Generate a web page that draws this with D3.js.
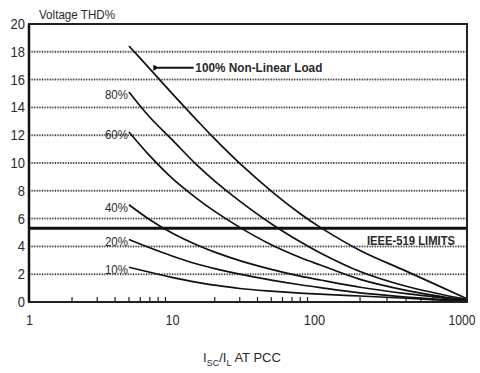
<!DOCTYPE html>
<html>
<head>
<meta charset="utf-8">
<script src="https://cdn.jsdelivr.net/npm/d3@7"></script>
<style>
  html, body { margin: 0; padding: 0; background: #fff; }
  svg { display: block; }
  text { font-family: "Liberation Sans", Arial, sans-serif; fill: #2a2a2a; }
</style>
</head>
<body>
<svg id="chart" width="480" height="373"></svg>
<script>
// Short-circuit ratio (Isc/IL) sample points shared by every curve
const ratio = [5, 7, 10, 15, 20, 30, 50, 80, 110, 200, 400, 1000];

// Voltage THD % for each share of non-linear load
const load100 = [18.42, 16.77, 15.01, 13.07, 11.73, 9.97, 7.98, 6.35, 5.37, 3.71, 2.22, 0.24];
const load80  = [15.11, 13.29, 11.68, 9.84, 8.70, 7.26, 5.63, 4.33, 3.53, 2.19, 1.13, 0.17];
const load60  = [12.23, 10.51, 8.91, 7.44, 6.52, 5.37, 4.12, 3.20, 2.66, 1.63, 0.84, 0.09];
const load40  = [7.0, 5.92, 4.96, 4.10, 3.59, 2.98, 2.35, 1.86, 1.58, 1.06, 0.60, 0.12];
const load20  = [4.5, 3.90, 3.31, 2.73, 2.40, 2.0, 1.58, 1.24, 1.03, 0.65, 0.36, 0.05];
const load10  = [2.5, 2.14, 1.77, 1.41, 1.21, 0.97, 0.78, 0.64, 0.56, 0.43, 0.27, 0.05];

const seriesNames = ["100%", "80%", "60%", "40%", "20%", "10%"];
const seriesValues = [load100, load80, load60, load40, load20, load10];

// Axis ticks
const xTickValues = [1, 10, 100, 1000];
const xTickLabels = ["1", "10", "100", "1000"];
const xMinorTicks = [2,3,4,5,6,7,8,9,20,30,40,50,60,70,80,90,200,300,400,500,600,700,800,900];
const yTickValues = [0, 2, 4, 6, 8, 10, 12, 14, 16, 18, 20];
const yGridValues = [2, 4, 6, 8, 10, 12, 14, 16, 18];

// IEEE-519 limit level
const ieeeLimit = [5.3];

const svg = d3.select("#chart");

// Hand-drawn decades are not quite equal in width
const x = d3.scaleLog().domain([1, 10, 100, 1000]).range([29, 172, 314, 467]);
const y = d3.scaleLinear().domain([0, 20]).range([302, 24]);

const plotLeft = 29, plotRight = 467, plotTop = 24, plotBottom = 302;

// dotted gridlines
const grid = svg.append("g");
grid.selectAll("line.base").data(yGridValues).join("line")
  .attr("class", "base")
  .attr("x1", plotLeft).attr("x2", plotRight)
  .attr("y1", d => y(d)).attr("y2", d => y(d))
  .attr("stroke", "#c4c4c4").attr("stroke-width", 1);
grid.selectAll("line.dot").data(yGridValues).join("line")
  .attr("class", "dot")
  .attr("x1", plotLeft).attr("x2", plotRight)
  .attr("y1", d => y(d)).attr("y2", d => y(d))
  .attr("stroke", "#3a3a3a").attr("stroke-width", 2)
  .attr("stroke-dasharray", "1,1.6");

// y axis labels
const yAxis = d3.axisLeft(y).tickValues(yTickValues).tickSize(0).tickPadding(4);
const gy = svg.append("g").attr("transform", `translate(${plotLeft},0)`).call(yAxis);
gy.select(".domain").remove();
gy.attr("font-family", null);
gy.selectAll("text").style("font-size", "14px").attr("fill", "#2a2a2a")
  .attr("textLength", d => String(d).length * 7.2).attr("lengthAdjust", "spacingAndGlyphs");

// x axis labels
const xAxis = d3.axisBottom(x).tickValues(xTickValues)
  .tickFormat((d, i) => xTickLabels[i]).tickSize(0).tickPadding(12);
const gx = svg.append("g").attr("transform", `translate(0,${plotBottom})`).call(xAxis);
gx.select(".domain").remove();
gx.attr("font-family", null);
gx.selectAll("text").style("font-size", "15px").attr("fill", "#2a2a2a")
  .attr("textLength", (d, i) => xTickLabels[i].length * 7.1)
  .attr("lengthAdjust", "spacingAndGlyphs");
// last label sits against the right edge of the page
gx.selectAll("text").filter(d => d === 1000)
  .attr("text-anchor", "end").attr("x", 475 - x(1000))
  .attr("textLength", 27);

// minor ticks pointing into the plot
svg.append("g").selectAll("line").data(xMinorTicks).join("line")
  .attr("x1", d => x(d)).attr("x2", d => x(d))
  .attr("y1", plotBottom).attr("y2", plotBottom - 5)
  .attr("stroke", "#222").attr("stroke-width", 1.2);

// IEEE-519 limit
svg.append("line")
  .attr("x1", plotLeft).attr("x2", plotRight)
  .attr("y1", y(ieeeLimit[0])).attr("y2", y(ieeeLimit[0]))
  .attr("stroke", "#111").attr("stroke-width", 3);
svg.append("text")
  .attr("x", 455).attr("y", y(ieeeLimit[0]) + 17)
  .attr("text-anchor", "end")
  .attr("textLength", 88).attr("lengthAdjust", "spacingAndGlyphs")
  .style("font-size", "13px").style("font-weight", "bold")
  .text("IEEE-519 LIMITS");

// curves
const line = d3.line()
  .x((d, i) => x(ratio[i]))
  .y(d => y(d))
  .curve(d3.curveCatmullRom.alpha(0.5));

svg.append("g").selectAll("path").data(seriesValues).join("path")
  .attr("d", d => line(d))
  .attr("fill", "none").attr("stroke", "#111").attr("stroke-width", 1.7);

// curve labels (the 100% curve is labelled with an arrow)
svg.append("g").selectAll("text").data(seriesNames.slice(1)).join("text")
  .attr("x", x(ratio[0]) - 1)
  .attr("y", (d, i) => y(seriesValues[i + 1][0]) + 7)
  .attr("text-anchor", "end")
  .attr("textLength", 23).attr("lengthAdjust", "spacingAndGlyphs")
  .style("font-size", "13px")
  .text(d => d);

const arrowY = y(16.85);
svg.append("defs").append("marker")
  .attr("id", "head").attr("viewBox", "0 0 10 10")
  .attr("refX", 2).attr("refY", 5)
  .attr("markerWidth", 3.5).attr("markerHeight", 3)
  .attr("orient", "auto")
  .append("path").attr("d", "M10,0 L0,5 L10,10 Z").attr("fill", "#111");
svg.append("line")
  .attr("x1", x(14.2)).attr("x2", x(8))
  .attr("y1", arrowY).attr("y2", arrowY)
  .attr("stroke", "#111").attr("stroke-width", 2)
  .attr("marker-end", "url(#head)");
svg.append("text")
  .attr("x", x(14.6)).attr("y", arrowY + 4.5)
  .attr("textLength", 127).attr("lengthAdjust", "spacingAndGlyphs")
  .style("font-size", "13px").style("font-weight", "bold")
  .text("100% Non-Linear Load");

// plot frame
svg.append("rect")
  .attr("x", plotLeft).attr("y", plotTop)
  .attr("width", plotRight - plotLeft).attr("height", plotBottom - plotTop)
  .attr("fill", "none").attr("stroke", "#222").attr("stroke-width", 2);
svg.append("line")
  .attr("x1", plotLeft).attr("x2", plotLeft).attr("y1", plotTop).attr("y2", plotBottom)
  .attr("stroke", "#111").attr("stroke-width", 2.5);

// axis titles
svg.append("text").attr("x", 39).attr("y", 19)
  .attr("textLength", 76).attr("lengthAdjust", "spacingAndGlyphs")
  .style("font-size", "12px").text("Voltage THD%");

const xt = svg.append("text").attr("x", 242).attr("y", 362)
  .attr("text-anchor", "middle").style("font-size", "13px");
xt.append("tspan").text("I");
xt.append("tspan").attr("dy", 4).style("font-size", "9px").text("SC");
xt.append("tspan").attr("dy", -4).text("/I");
xt.append("tspan").attr("dy", 4).style("font-size", "9px").text("L");
xt.append("tspan").attr("dy", -4).text(" AT PCC");
</script>
</body>
</html>
